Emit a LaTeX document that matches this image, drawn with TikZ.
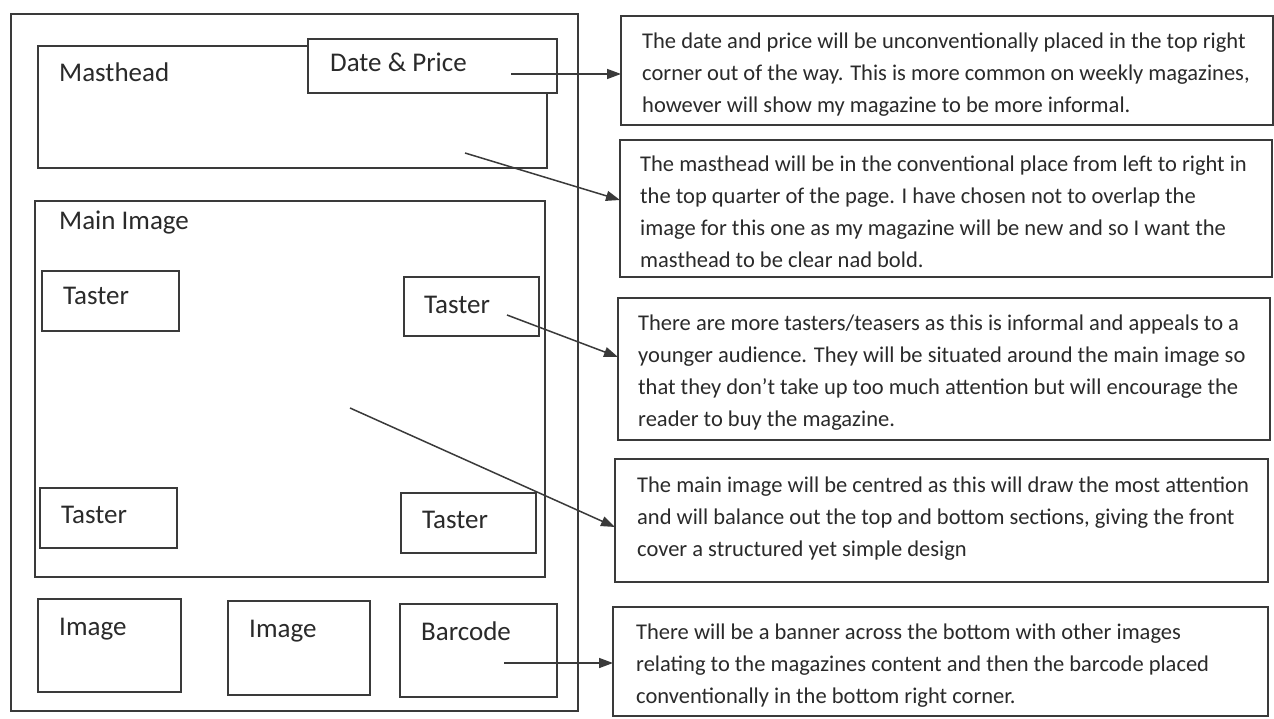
\documentclass[tikz,border=0pt]{standalone}
\usepackage{fontspec}
\setmainfont{Carlito}
\usetikzlibrary{arrows.meta}
\definecolor{ink}{HTML}{3A3A3A}
\definecolor{txt}{HTML}{2A2A2A}

% rectangle node given by name and its two corners (x1,y1) (x2,y2)
\newcommand\magbox[5]{%
  \node[box, minimum width={#4-#2}, minimum height={#5-#3}] (#1) at (#2,#3) {};}

\begin{document}
\begin{tikzpicture}[x=1pt, y=-1pt,
  box/.style={draw=ink, line width=1.7pt, fill=white, anchor=north west,
    inner sep=0pt, outer sep=0pt},
  lbl/.style={anchor=base west, inner sep=0pt, text=txt,
    font=\fontsize{27}{32}\selectfont},
  note/.style={anchor=north west, inner sep=0pt, text=txt, align=left,
    font=\fontsize{22.5}{32}\selectfont},
  link/.style={draw=ink, line width=1.5pt, -{Triangle[length=14pt,width=10pt]}},
]
\useasboundingbox (0,0) rectangle (1274,719);
\fill[white] (0,0) rectangle (1274,719);

% cover layout
\magbox{cover}{11}{14}{578}{711}
\magbox{mast}{38}{46}{547}{168}
\magbox{date}{308}{39}{557}{93}
\magbox{main}{35}{201}{545}{577}
\magbox{tasterA}{42}{271}{179}{331}
\magbox{tasterB}{404}{277}{539}{336}
\magbox{tasterC}{40}{488}{177}{548}
\magbox{tasterD}{401}{493}{536}{553}
\magbox{imgA}{38}{599}{181}{692}
\magbox{imgB}{228}{601}{370}{695}
\magbox{barcode}{400}{604}{557}{697}

\node[lbl] (lmast) at (59,82) {Masthead};
\node[lbl] (ldate) at (330,72) {Date \& Price};
\node[lbl] (lmain) at (59,230) {Main Image};
\node[lbl] (ltA) at (63,305) {Taster};
\node[lbl] (ltB) at (424,313) {Taster};
\node[lbl] (ltC) at (61,523) {Taster};
\node[lbl] (ltD) at (422,528) {Taster};
\node[lbl] (liA) at (59,635) {Image};
\node[lbl] (liB) at (249,637) {Image};
\node[lbl] (lbar) at (421,640) {Barcode};

% explanation boxes
\magbox{r1}{621}{16}{1273}{125}
\magbox{r2}{620}{140}{1272}{277}
\magbox{r3}{618}{298}{1270}{440}
\magbox{r4}{615}{459}{1268}{582}
\magbox{r5}{613}{607}{1268}{716}

\node[note] (n1) at (642,33) {The date and price will be unconventionally placed in the top right\\
corner out of the way. This is more common on weekly magazines,\\
however will show my magazine to be more informal.};
\node[note] (n2) at (640,156) {The masthead will be in the conventional place from left to right in\\
the top quarter of the page. I have chosen not to overlap the\\
image for this one as my magazine will be new and so I want the\\
masthead to be clear nad bold.};
\node[note] (n3) at (638,315) {There are more tasters/teasers as this is informal and appeals to a\\
younger audience. They will be situated around the main image so\\
that they don't take up too much attention but will encourage the\\
reader to buy the magazine.};
\node[note] (n4) at (637,477) {The main image will be centred as this will draw the most attention\\
and will balance out the top and bottom sections, giving the front\\
cover a structured yet simple design};
\node[note] (n5) at (636,624) {There will be a banner across the bottom with other images\\
relating to the magazines content and then the barcode placed\\
conventionally in the bottom right corner.};

% connectors from the cover areas to their notes
\coordinate (s1) at (511,74);
\coordinate (s2) at (465,153);
\coordinate (s3) at (507,315);
\coordinate (s4) at (350,408);
\coordinate (s5) at (504,663);
\draw[link] (s1) -- (r1.west |- s1);
\draw[link] (s2) -- ([yshift=8.5pt]r2.west);
\draw[link] (s3) -- ([yshift=12pt]r3.west);
\draw[link] (s4) -- ([yshift=-6.5pt]r4.west);
\draw[link] (s5) -- (r5.west |- s5);
\end{tikzpicture}
\end{document}
